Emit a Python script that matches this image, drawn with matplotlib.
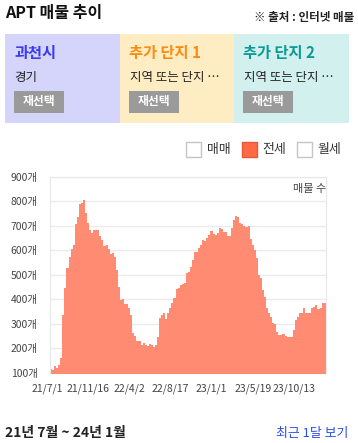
import numpy as np
import matplotlib
matplotlib.use("Agg")
import matplotlib.pyplot as plt
import matplotlib.transforms as mtransforms
from matplotlib.patches import Rectangle

plt.rcParams['font.family'] = ['Noto Sans CJK KR', 'DejaVu Sans']

# weekly listing counts (전세)
counts = [115, 110, 127, 119, 131, 159, 336, 445, 527, 575,
          605, 620, 707, 738, 790, 793, 805, 752, 711, 684,
          673, 684, 684, 684, 660, 643, 618, 622, 605, 586,
          589, 575, 520, 449, 397, 400, 381, 381, 363, 336,
          264, 250, 231, 231, 213, 220, 213, 209, 217, 213,
          204, 215, 247, 322, 336, 345, 318, 343, 363, 384,
          404, 441, 445, 459, 463, 468, 506, 510, 534, 561,
          595, 595, 608, 622, 643, 640, 649, 663, 681, 667,
          663, 673, 690, 686, 677, 674, 660, 659, 690, 724,
          741, 738, 711, 708, 700, 694, 700, 645, 622, 602,
          568, 499, 486, 438, 408, 363, 345, 329, 304, 299,
          268, 254, 254, 258, 250, 247, 247, 247, 275, 315,
          329, 343, 345, 363, 345, 345, 345, 363, 367, 377,
          360, 363, 384, 384]
date_labels = ["21/7/1", "21/11/16", "22/4/2", "22/8/17", "23/1/1", "23/5/19", "23/10/13"]
label_step = 20
y_ticks = [100, 200, 300, 400, 500, 600, 700, 800, 900]

W, H = 358, 443
fig = plt.figure(figsize=(W / 100, H / 100), dpi=100)


def fx(x):
    return x / W


def fy(y):
    return 1 - y / H


def box(x0, y0, x1, y1, **kw):
    fig.patches.append(Rectangle((fx(x0), fy(y1)), (x1 - x0) / W, (y1 - y0) / H,
                                 transform=fig.transFigure, **kw))


# header
fig.text(fx(5), fy(13), "APT 매물 추이", fontsize=11.5, fontweight='bold', color='#111', va='center')
fig.text(fx(354), fy(17), "※ 출처 : 인터넷 매물", fontsize=8.3, fontweight='bold', color='#222',
         ha='right', va='center')

# selection panels
panels = [(5, 120, '#d5d5fb', "과천시", '#3a3af0', "경기"),
          (120, 234, '#feedc2', "추가 단지 1", '#ff8a12', "지역 또는 단지 …"),
          (234, 349, '#d2f0ee', "추가 단지 2", '#0b9a94', "지역 또는 단지 …")]
for x0, x1, bg, name, c, sub in panels:
    box(x0, 33.5, x1, 122.5, facecolor=bg, edgecolor='none')
    fig.text(fx(x0 + 9.3), fy(53), name, fontsize=11, fontweight='bold', color=c, va='center')
    fig.text(fx(x0 + 9.5), fy(78), sub, fontsize=9, color='#222', va='center')
    box(x0 + 9.3, 90.7, x0 + 58.5, 112.7, facecolor='#9a9a9a', edgecolor='none')
    fig.text(fx(x0 + 34), fy(101.5), "재선택", fontsize=8.5, fontweight='bold', color='white',
             ha='center', va='center')

# legend checkboxes
legend = [(186, "매매", 'white', '#c4c4cc'),
          (242, "전세", '#ff6a45', '#e8573a'),
          (297, "월세", 'white', '#c4c4cc')]
for x, name, fc, ec in legend:
    box(x, 142, x + 15, 156.5, facecolor=fc, edgecolor=ec, linewidth=1)
    fig.text(fx(x + 20.5), fy(149), name, fontsize=9.3, color='#333', va='center')

# chart
ax = fig.add_axes([fx(50), fy(372.7), (325.7 - 50) / W, (372.7 - 177) / H])
n = len(counts)
xs = np.arange(n + 1)
ys = counts + [counts[-1]]
ax.fill_between(xs, 0, ys, step='post', color='#ff8b73', linewidth=0)
ax.set_xlim(0, n)
ax.set_ylim(100, 900)
ax.set_yticks(y_ticks)
ax.set_yticklabels([f"{v}개" for v in y_ticks])
ax.set_xticks(np.arange(len(date_labels)) * label_step)
ax.set_xticklabels(date_labels)
ax.tick_params(length=0, labelsize=7.5, colors='#444')
ax.tick_params(axis='y', pad=9)
ax.tick_params(axis='x', pad=8)
shift = mtransforms.ScaledTranslation(-3 / 100, 0, fig.dpi_scale_trans)
for lab in ax.get_xticklabels():
    lab.set_transform(lab.get_transform() + shift)
ax.yaxis.grid(True, color='#ebebeb', linewidth=1)
ax.set_axisbelow(True)
for side in ['left', 'right', 'top']:
    ax.spines[side].set_color('#e8e8e8')
ax.spines['bottom'].set_visible(False)
fig.text(fx(326), fy(189), "매물 수", fontsize=8, color='#444', ha='right', va='center')

# footer
fig.text(fx(5), fy(433), "21년 7월 ~ 24년 1월", fontsize=10, fontweight='bold', color='#222', va='center')
fig.text(fx(348), fy(433), "최근 1달 보기", fontsize=9.3, color='#2c4ee8', ha='right', va='center')

fig.savefig("out.png", dpi=100)
